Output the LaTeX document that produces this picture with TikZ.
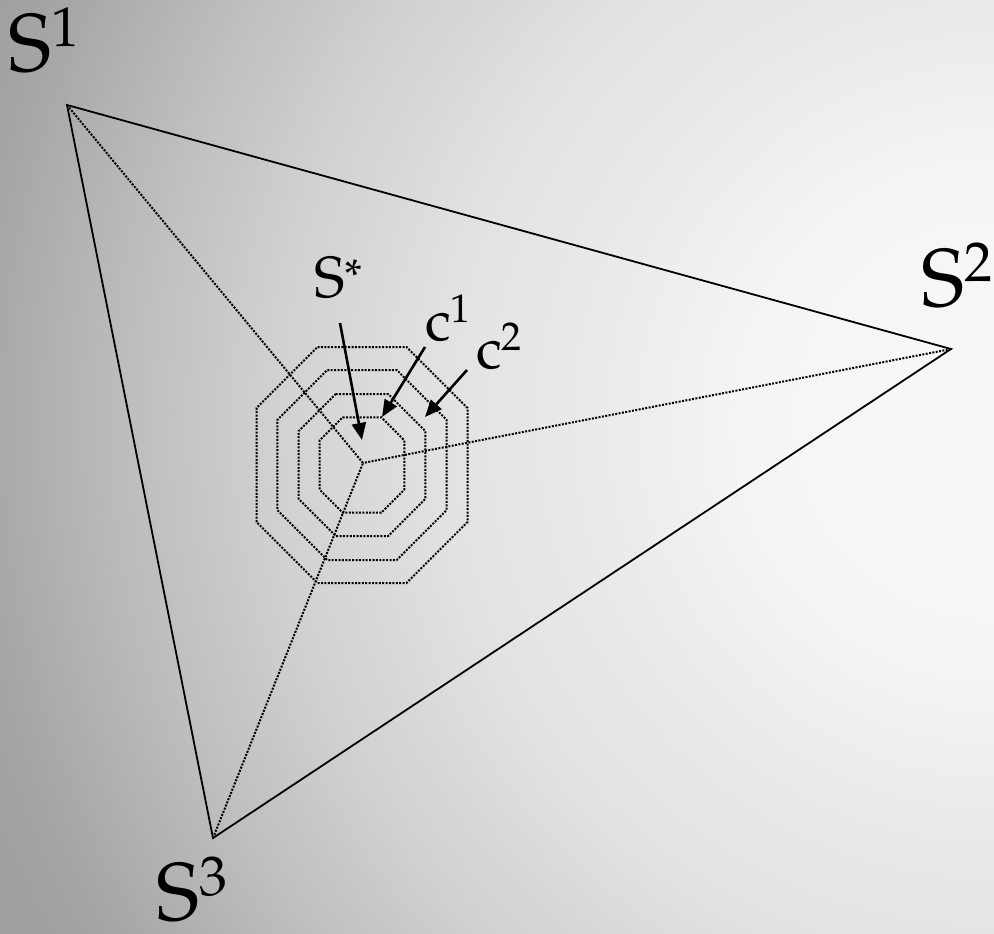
\documentclass[tikz,border=0pt]{standalone}
\usepackage[T1]{fontenc}
\usepackage{mathpazo}
\usetikzlibrary{arrows.meta}
\definecolor{bgA}{HTML}{F8F8F8}
\definecolor{bgB}{HTML}{F5F5F5}
\definecolor{bgC}{HTML}{ECECEC}
\definecolor{bgD}{HTML}{E2E2E2}
\definecolor{bgE}{HTML}{D0D0D0}
\definecolor{bgF}{HTML}{BEBEBE}
\definecolor{bgG}{HTML}{A6A6A6}
\definecolor{bgH}{HTML}{A0A0A0}
\definecolor{bgI}{HTML}{9C9C9C}
\pgfdeclareradialshading{bgshade}{\pgfpoint{0bp}{0bp}}{color(0bp)=(bgA); color(9.7bp)=(bgB); color(15bp)=(bgC); color(22bp)=(bgD); color(29bp)=(bgE); color(34.3bp)=(bgF); color(40.5bp)=(bgG); color(43bp)=(bgH); color(50bp)=(bgI)}
\newcommand\bigsup[1]{\raisebox{25pt}{\fontsize{56}{56}\selectfont #1}}
\newcommand\midsup[1]{\raisebox{18pt}{\fontsize{40}{40}\selectfont #1}}
\newcommand\starsup{\raisebox{6pt}{\fontsize{46}{46}\selectfont *}}
\tikzset{
  biglabel/.style={inner sep=0pt, anchor=base west, font=\fontsize{82}{90}\selectfont},
  midlabel/.style={inner sep=0pt, anchor=base west, font=\fontsize{58}{64}\selectfont},
  edgeline/.style={line width=1.8pt, black},
  dotline/.style={line width=2pt, black, dash pattern=on 2pt off 1.4pt},
  pointer/.style={line width=2.6pt, black, -{Triangle[length=17pt,width=14pt]}}
}
\begin{document}
\begin{tikzpicture}[x=1pt,y=-1pt]
\useasboundingbox (0,0) rectangle (994,934);
\begin{scope}
\clip (0,0) rectangle (994,934);
\pgftransformshift{\pgfpoint{994pt}{-420pt}}
\pgftransformscale{25}
\pgflowlevelsynccm
\pgfuseshading{bgshade}
\end{scope}
% vertices
\coordinate (v1) at (67,105);
\coordinate (v2) at (951,349);
\coordinate (v3) at (213,838);
\coordinate (s) at (363,463);
% triangle
\draw[edgeline, line join=miter] (v1) -- (v2) -- (v3) -- cycle;
% dotted spokes
\draw[dotline] (v1) -- (s);
\draw[dotline] (v2) -- (s);
\draw[dotline] (v3) -- (s);
% octagons
\foreach \a/\b/\c in {105.5/118/61, 84.7/95/50, 63.3/71/37, 42.3/47.7/23}{
  \draw[dotline, shift={(362,465)}]
    (-\a+\c,-\b) -- (\a-\c,-\b) -- (\a,-\b+\c) -- (\a,\b-\c) --
    (\a-\c,\b) -- (-\a+\c,\b) -- (-\a,\b-\c) -- (-\a,-\b+\c) -- cycle;
}
% labels
\node[biglabel] (l1) at (8,72) {S\bigsup{1}};
\node[biglabel] (l2) at (921,306) {S\bigsup{2}};
\node[biglabel] (l3) at (156,920) {S\bigsup{3}};
\node[midlabel] (ls) at (314,297) {S\starsup};
\node[midlabel] (lc1) at (425,340) {c\midsup{1}};
\node[midlabel] (lc2) at (476,368) {c\midsup{2}};
% arrows
\coordinate (as0) at (340,323);
\coordinate (as1) at (362,440);
\coordinate (ac10) at (425,347);
\coordinate (ac11) at (382,417);
\coordinate (ac20) at (467,370);
\coordinate (ac21) at (425,417);
\draw[pointer] (as0) -- (as1);
\draw[pointer] (ac10) -- (ac11);
\draw[pointer] (ac20) -- (ac21);
\end{tikzpicture}
\end{document}
